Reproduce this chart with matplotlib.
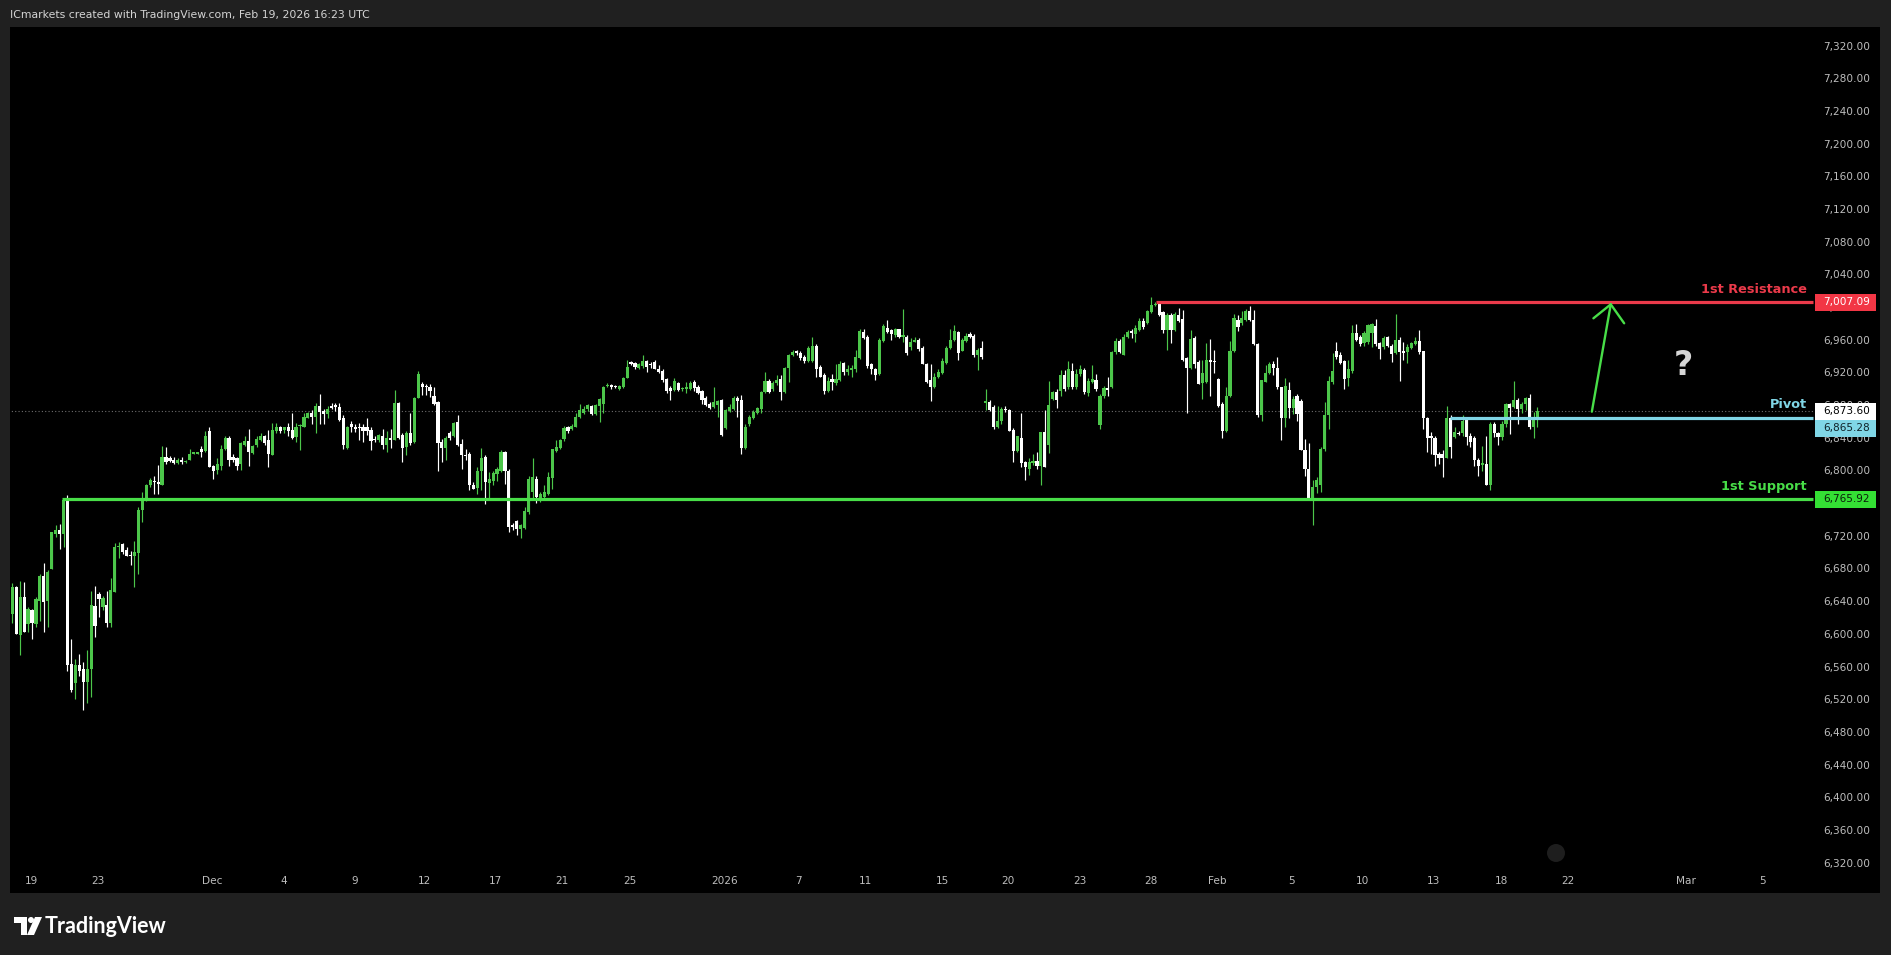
from __future__ import annotations

import matplotlib
matplotlib.use("Agg")
import numpy as np
import matplotlib.pyplot as plt
from matplotlib.patches import Rectangle, Circle, Polygon
from matplotlib.transforms import blended_transform_factory, IdentityTransform


OUT_FILE = "out.png"
W_PX, H_PX, DPI = 1891, 955, 100

# 4h candles, US500 (one value per bar)
OPEN = [
    6625, 6659, 6600, 6646, 6613, 6630, 6613, 6642, 6672, 6641,
    6680, 6724, 6728, 6724, 6765, 6564, 6541, 6563, 6558, 6542,
    6558, 6635, 6650, 6634, 6636, 6615, 6653, 6707, 6711, 6704,
    6698, 6696, 6700, 6753, 6765, 6783, 6788, 6787, 6784, 6818,
    6817, 6814, 6810, 6814, 6812, 6814, 6822, 6822, 6828, 6825,
    6849, 6807, 6802, 6807, 6828, 6841, 6818, 6817, 6809, 6833,
    6837, 6823, 6833, 6839, 6843, 6839, 6820, 6850, 6854, 6851,
    6855, 6851, 6842, 6856, 6855, 6866, 6871, 6867, 6880, 6874,
    6870, 6880, 6881, 6879, 6866, 6829, 6858, 6855, 6854, 6855,
    6855, 6851, 6840, 6838, 6844, 6832, 6841, 6839, 6884, 6845,
    6830, 6847, 6836, 6890, 6907, 6905, 6903, 6893, 6885, 6836,
    6829, 6847, 6844, 6860, 6834, 6820, 6822, 6784, 6780, 6801,
    6818, 6786, 6788, 6797, 6801, 6824, 6801, 6735, 6739, 6730,
    6731, 6750, 6775, 6791, 6767, 6769, 6773, 6792, 6825, 6829,
    6840, 6854, 6852, 6855, 6867, 6872, 6876, 6880, 6870, 6880,
    6882, 6905, 6906, 6904, 6901, 6903, 6914, 6933, 6933, 6927,
    6929, 6935, 6931, 6934, 6926, 6923, 6913, 6902, 6900, 6908,
    6901, 6901, 6901, 6909, 6904, 6899, 6890, 6883, 6879, 6881,
    6888, 6853, 6874, 6876, 6890, 6888, 6829, 6858, 6866, 6871,
    6877, 6897, 6911, 6901, 6908, 6913, 6897, 6927, 6942, 6947,
    6945, 6940, 6935, 6935, 6954, 6928, 6918, 6899, 6913, 6908,
    6912, 6933, 6922, 6924, 6926, 6939, 6971, 6965, 6931, 6926,
    6919, 6960, 6976, 6973, 6967, 6974, 6965, 6965, 6952, 6959,
    6961, 6951, 6932, 6912, 6904, 6916, 6920, 6933, 6951, 6961,
    6971, 6948, 6960, 6968, 6966, 6942, 6951, 6884, 6885, 6879,
    6855, 6862, 6877, 6875, 6851, 6825, 6841, 6811, 6803, 6810,
    6813, 6807, 6848, 6832, 6889, 6897, 6899, 6918, 6903, 6923,
    6904, 6919, 6924, 6896, 6910, 6912, 6857, 6892, 6902, 6904,
    6946, 6960, 6943, 6965, 6971, 6968, 6973, 6984, 6982, 6995,
    7004, 7006, 6995, 6973, 6992, 6973, 6992, 6987, 6939, 6927,
    6964, 6934, 6908, 6909, 6937, 6935, 6913, 6883, 6850, 6892,
    6947, 6986, 6982, 6986, 6997, 6986, 6956, 6869, 6910, 6920,
    6931, 6927, 6903, 6866, 6900, 6878, 6893, 6886, 6826, 6803,
    6765, 6781, 6783, 6827, 6869, 6909, 6948, 6943, 6935, 6915,
    6923, 6969, 6965, 6957, 6958, 6969, 6978, 6957, 6952, 6965,
    6954, 6945, 6961, 6948, 6946, 6951, 6956, 6960, 6947, 6866,
    6844, 6841, 6822, 6821, 6817, 6866, 6842, 6847, 6847, 6863,
    6843, 6841, 6814, 6808, 6809, 6783, 6858, 6847, 6842, 6858,
    6882, 6879, 6887, 6876, 6882, 6890, 6855, 6865,
]
HIGH = [
    6664, 6660, 6666, 6665, 6634, 6632, 6646, 6675, 6688, 6679,
    6726, 6734, 6736, 6765, 6771, 6595, 6571, 6576, 6567, 6581,
    6654, 6660, 6652, 6648, 6654, 6670, 6712, 6714, 6712, 6707,
    6703, 6715, 6756, 6775, 6785, 6792, 6795, 6808, 6831, 6830,
    6819, 6818, 6817, 6818, 6814, 6828, 6823, 6823, 6831, 6850,
    6854, 6808, 6817, 6832, 6844, 6843, 6821, 6818, 6836, 6843,
    6852, 6833, 6844, 6847, 6845, 6851, 6859, 6859, 6856, 6855,
    6859, 6871, 6859, 6858, 6871, 6873, 6875, 6884, 6895, 6877,
    6880, 6884, 6884, 6884, 6869, 6856, 6862, 6858, 6859, 6858,
    6866, 6854, 6844, 6846, 6852, 6850, 6852, 6900, 6885, 6847,
    6850, 6872, 6891, 6923, 6909, 6907, 6907, 6904, 6886, 6840,
    6844, 6849, 6861, 6869, 6840, 6827, 6824, 6787, 6805, 6829,
    6820, 6799, 6801, 6806, 6826, 6825, 6803, 6737, 6740, 6736,
    6756, 6795, 6817, 6795, 6775, 6783, 6799, 6828, 6838, 6840,
    6856, 6856, 6858, 6871, 6883, 6880, 6883, 6881, 6883, 6890,
    6905, 6908, 6907, 6906, 6906, 6916, 6936, 6935, 6934, 6933,
    6943, 6937, 6934, 6936, 6930, 6925, 6915, 6905, 6914, 6909,
    6903, 6909, 6911, 6912, 6906, 6900, 6892, 6885, 6903, 6887,
    6889, 6877, 6883, 6892, 6893, 6894, 6858, 6869, 6875, 6879,
    6899, 6922, 6913, 6911, 6918, 6918, 6928, 6944, 6949, 6949,
    6947, 6942, 6953, 6965, 6956, 6930, 6920, 6916, 6919, 6932,
    6935, 6934, 6930, 6930, 6949, 6975, 6975, 6967, 6933, 6927,
    6964, 6980, 6986, 6975, 6976, 6975, 6999, 6967, 6964, 6965,
    6964, 6953, 6933, 6932, 6920, 6926, 6939, 6953, 6974, 6979,
    6972, 6964, 6969, 6971, 6968, 6951, 6960, 6901, 6887, 6881,
    6880, 6879, 6880, 6877, 6853, 6844, 6871, 6813, 6816, 6822,
    6824, 6848, 6875, 6911, 6899, 6901, 6924, 6924, 6935, 6933,
    6925, 6930, 6927, 6915, 6930, 6919, 6895, 6905, 6916, 6947,
    6964, 6962, 6968, 6973, 6975, 6979, 6988, 6988, 6998, 7013,
    7008, 7007, 6996, 6994, 6994, 6995, 7000, 6998, 6940, 6973,
    6966, 6936, 6937, 6957, 6962, 6949, 6915, 6885, 6904, 6960,
    6993, 6992, 6996, 6999, 7002, 6998, 6957, 6912, 6930, 6934,
    6935, 6940, 6904, 6915, 6910, 6892, 6895, 6889, 6840, 6835,
    6789, 6793, 6830, 6885, 6917, 6945, 6958, 6946, 6936, 6937,
    6979, 6980, 6967, 6972, 6981, 6982, 6987, 6958, 6966, 6966,
    6956, 6993, 6965, 6958, 6956, 6959, 6965, 6973, 6948, 6867,
    6848, 6843, 6824, 6826, 6880, 6869, 6855, 6849, 6869, 6864,
    6847, 6844, 6817, 6831, 6844, 6860, 6860, 6848, 6862, 6884,
    6884, 6911, 6890, 6885, 6891, 6895, 6873, 6879,
]
LOW = [
    6615, 6601, 6575, 6604, 6603, 6595, 6609, 6617, 6603, 6609,
    6680, 6720, 6705, 6707, 6556, 6530, 6521, 6550, 6508, 6516,
    6524, 6597, 6622, 6630, 6610, 6610, 6653, 6694, 6699, 6696,
    6685, 6658, 6674, 6738, 6764, 6781, 6772, 6773, 6784, 6809,
    6811, 6809, 6809, 6809, 6810, 6814, 6821, 6821, 6818, 6824,
    6805, 6791, 6797, 6802, 6826, 6807, 6811, 6802, 6802, 6831,
    6807, 6821, 6830, 6837, 6833, 6806, 6820, 6847, 6847, 6847,
    6844, 6840, 6836, 6826, 6854, 6865, 6858, 6847, 6858, 6858,
    6865, 6876, 6874, 6862, 6827, 6828, 6848, 6848, 6838, 6836,
    6845, 6826, 6836, 6836, 6827, 6824, 6829, 6838, 6840, 6812,
    6820, 6832, 6835, 6890, 6894, 6894, 6891, 6881, 6801, 6812,
    6814, 6838, 6842, 6831, 6803, 6814, 6777, 6778, 6773, 6777,
    6760, 6767, 6783, 6788, 6799, 6785, 6726, 6728, 6722, 6718,
    6730, 6748, 6765, 6761, 6763, 6767, 6771, 6779, 6824, 6828,
    6837, 6847, 6851, 6854, 6865, 6870, 6874, 6869, 6869, 6861,
    6871, 6904, 6901, 6902, 6900, 6902, 6914, 6930, 6926, 6925,
    6927, 6922, 6927, 6925, 6921, 6909, 6896, 6888, 6899, 6899,
    6899, 6896, 6900, 6899, 6895, 6882, 6880, 6876, 6878, 6867,
    6844, 6852, 6873, 6875, 6867, 6822, 6828, 6856, 6864, 6870,
    6871, 6896, 6896, 6899, 6906, 6888, 6896, 6909, 6941, 6943,
    6937, 6933, 6934, 6934, 6916, 6916, 6895, 6897, 6900, 6906,
    6911, 6918, 6918, 6916, 6922, 6938, 6962, 6927, 6919, 6912,
    6918, 6958, 6969, 6961, 6965, 6964, 6958, 6942, 6949, 6958,
    6948, 6931, 6908, 6886, 6902, 6915, 6919, 6931, 6950, 6960,
    6937, 6947, 6958, 6963, 6940, 6924, 6938, 6875, 6874, 6852,
    6853, 6858, 6873, 6849, 6811, 6824, 6806, 6790, 6796, 6808,
    6803, 6783, 6805, 6823, 6887, 6878, 6893, 6899, 6901, 6901,
    6901, 6917, 6895, 6893, 6908, 6899, 6852, 6890, 6893, 6902,
    6944, 6945, 6942, 6964, 6964, 6958, 6972, 6975, 6980, 6994,
    7002, 6990, 6969, 6949, 6957, 6972, 6983, 6935, 6871, 6926,
    6927, 6907, 6889, 6908, 6892, 6920, 6879, 6841, 6848, 6891,
    6946, 6972, 6979, 6984, 6984, 6955, 6867, 6862, 6909, 6919,
    6918, 6901, 6839, 6854, 6866, 6870, 6862, 6826, 6795, 6765,
    6735, 6774, 6775, 6825, 6852, 6907, 6938, 6931, 6901, 6905,
    6921, 6960, 6954, 6954, 6956, 6952, 6954, 6938, 6950, 6952,
    6934, 6944, 6911, 6936, 6933, 6950, 6955, 6944, 6852, 6824,
    6822, 6807, 6809, 6793, 6816, 6817, 6841, 6845, 6844, 6832,
    6830, 6807, 6795, 6801, 6783, 6777, 6842, 6833, 6838, 6854,
    6846, 6878, 6858, 6871, 6875, 6852, 6841, 6854,
]
CLOSE = [
    6659, 6601, 6646, 6604, 6632, 6614, 6644, 6672, 6640, 6677,
    6726, 6728, 6723, 6765, 6563, 6533, 6563, 6556, 6542, 6558,
    6636, 6611, 6644, 6645, 6615, 6655, 6707, 6708, 6701, 6697,
    6696, 6702, 6753, 6765, 6783, 6789, 6787, 6785, 6818, 6811,
    6813, 6810, 6814, 6812, 6813, 6822, 6822, 6822, 6824, 6844,
    6806, 6801, 6809, 6828, 6841, 6814, 6814, 6807, 6835, 6837,
    6824, 6831, 6840, 6843, 6835, 6821, 6851, 6854, 6850, 6854,
    6849, 6841, 6854, 6857, 6867, 6871, 6867, 6880, 6873, 6870,
    6877, 6878, 6879, 6863, 6832, 6855, 6854, 6852, 6853, 6850,
    6850, 6837, 6838, 6845, 6833, 6841, 6838, 6884, 6841, 6829,
    6847, 6835, 6890, 6919, 6903, 6903, 6899, 6883, 6835, 6829,
    6841, 6841, 6859, 6833, 6820, 6819, 6783, 6779, 6801, 6816,
    6787, 6791, 6798, 6803, 6824, 6801, 6732, 6732, 6730, 6734,
    6752, 6791, 6793, 6769, 6772, 6775, 6793, 6827, 6830, 6839,
    6853, 6850, 6856, 6867, 6875, 6877, 6881, 6870, 6881, 6889,
    6904, 6906, 6904, 6903, 6905, 6914, 6928, 6932, 6928, 6931,
    6935, 6928, 6930, 6926, 6922, 6912, 6899, 6898, 6911, 6900,
    6902, 6903, 6908, 6902, 6896, 6888, 6881, 6878, 6885, 6886,
    6845, 6875, 6879, 6890, 6886, 6829, 6855, 6867, 6873, 6878,
    6897, 6911, 6897, 6908, 6912, 6897, 6927, 6942, 6946, 6945,
    6939, 6935, 6951, 6954, 6925, 6916, 6899, 6911, 6909, 6913,
    6932, 6922, 6926, 6927, 6940, 6972, 6964, 6929, 6925, 6918,
    6961, 6978, 6971, 6968, 6974, 6965, 6967, 6945, 6959, 6961,
    6950, 6932, 6909, 6904, 6916, 6922, 6935, 6951, 6961, 6972,
    6945, 6961, 6966, 6965, 6942, 6949, 6940, 6886, 6875, 6854,
    6862, 6877, 6875, 6850, 6825, 6843, 6810, 6805, 6811, 6813,
    6807, 6848, 6806, 6881, 6897, 6887, 6918, 6901, 6925, 6903,
    6919, 6926, 6897, 6911, 6913, 6901, 6892, 6902, 6900, 6946,
    6960, 6946, 6965, 6971, 6970, 6976, 6984, 6977, 6997, 7004,
    7005, 6992, 6973, 6992, 6973, 6993, 6984, 6936, 6927, 6962,
    6932, 6907, 6920, 6937, 6934, 6934, 6880, 6850, 6892, 6948,
    6988, 6977, 6988, 6996, 6986, 6956, 6869, 6912, 6920, 6932,
    6927, 6903, 6866, 6905, 6878, 6889, 6870, 6826, 6803, 6765,
    6781, 6790, 6827, 6869, 6911, 6923, 6940, 6933, 6913, 6926,
    6969, 6961, 6956, 6969, 6979, 6980, 6956, 6950, 6964, 6953,
    6944, 6961, 6946, 6945, 6952, 6957, 6960, 6946, 6865, 6841,
    6841, 6820, 6816, 6816, 6865, 6830, 6848, 6846, 6862, 6842,
    6836, 6814, 6807, 6810, 6783, 6858, 6847, 6842, 6858, 6882,
    6878, 6888, 6876, 6882, 6890, 6855, 6865, 6874,
]

# time scale: label text and the bar where that day starts
DATE_LABELS = ["19", "23", "Dec", "4", "9", "12", "17", "21", "25", "2026",
               "7", "11", "15", "20", "23", "28", "Feb", "5", "10", "13",
               "18", "22", "Mar", "5"]
DATE_BARS = [4.9, 21.7, 50.7, 68.8, 86.9, 104.6, 122.7, 139.5, 156.6, 180.8,
             199.5, 216.6, 235.9, 252.7, 270.8, 288.8, 305.7, 324.6, 342.7, 360.7,
             377.9, 394.7, 424.7, 444.0]

# 6,760.00 sits completely under the support label, so it is left out
PRICE_TICKS = [6320, 6360, 6400, 6440, 6480, 6520, 6560, 6600, 6640, 6680,
               6720, 6800, 6840, 6880, 6920, 6960, 7000, 7040, 7080,
               7120, 7160, 7200, 7240, 7280, 7320]

# drawn levels
RESISTANCE = 7007.09
PIVOT = 6865.28
SUPPORT = 6765.92
LAST_PRICE = 6873.60
RES_START_BAR = 290.1
PIVOT_START_BAR = 364.8
SUPPORT_START_BAR = 12.7

# arrow drawing (bar, price)
ARROW_TAIL = (400.8, 6873.2)
ARROW_HEAD = (405.6, 7004.6)
ARROW_WINGS = [(401.2, 6987.5), (409.0, 6981.4)]
QUESTION_AT = (424.1, 6929.7)

# screen geometry (px) of the screenshot
PANEL_L, PANEL_R, PANEL_T, PANEL_B = 10, 1880, 27, 893
SCALE_L = 1813          # price scale starts here
LABEL_X = 1823
FIRST_BAR_PX, BAR_PX = 12.3, 3.941
REF_PRICE, REF_Y, PX_PER_PT = 7007.09, 302.3, 0.8169

BG_OUTER = "#202020"
UP = "#4cc64a"
DOWN = "#ffffff"
RED = "#eb3a4a"
BLUE = "#80d6e6"
GREEN = "#48de48"
AXIS_TXT = "#bdbdbd"

plt.rcParams.update({"font.family": ["DejaVu Sans"], "font.size": 8})


def _px_to_bar(x: float) -> float:
    return (x - FIRST_BAR_PX) / BAR_PX


def _y_to_price(y: float) -> float:
    return REF_PRICE - (y - REF_Y) / PX_PER_PT


def _xfrac(x: float) -> float:
    return (x - PANEL_L) / (PANEL_R - PANEL_L)


def draw_candles(ax) -> None:
    n = min(len(OPEN), len(HIGH), len(LOW), len(CLOSE))
    o = np.array(OPEN[:n], float)
    h = np.array(HIGH[:n], float)
    l = np.array(LOW[:n], float)
    c = np.array(CLOSE[:n], float)
    x = np.arange(n)
    cols = np.where(c >= o, UP, DOWN)
    ax.vlines(x, l, h, colors=cols, linewidth=0.85, zorder=3)
    body = np.maximum(np.abs(c - o), 1.4)
    ax.bar(x, body, bottom=np.minimum(o, c), width=0.8, color=cols,
           linewidth=0, zorder=4)


def draw_levels(ax) -> None:
    right = _px_to_bar(SCALE_L)
    ax.plot([-1, right], [LAST_PRICE, LAST_PRICE], color="#6e6e6e",
            linewidth=0.8, linestyle=(0, (1, 2)), zorder=2)
    for start, lvl, col in [(RES_START_BAR, RESISTANCE, RED),
                            (PIVOT_START_BAR, PIVOT, BLUE),
                            (SUPPORT_START_BAR, SUPPORT, GREEN)]:
        ax.plot([start, right], [lvl, lvl], color=col, linewidth=2.3, zorder=5,
                solid_capstyle="butt")

    tx = _px_to_bar(1807)
    for txt, lvl, col in [("1st Resistance", RESISTANCE, RED), ("Pivot", PIVOT, BLUE),
                          ("1st Support", SUPPORT, GREEN)]:
        ax.annotate(txt, (tx, lvl), xytext=(0, 9.5), textcoords="offset points",
                    ha="right", va="center", color=col, fontsize=9.3,
                    fontweight="bold", zorder=6)

    # arrow + question mark
    ax.plot([ARROW_TAIL[0], ARROW_HEAD[0]], [ARROW_TAIL[1], ARROW_HEAD[1]],
            color=GREEN, linewidth=1.7, zorder=6, solid_capstyle="round")
    for wx, wy in ARROW_WINGS:
        ax.plot([wx, ARROW_HEAD[0]], [wy, ARROW_HEAD[1]], color=GREEN,
                linewidth=1.7, zorder=6, solid_capstyle="round")
    ax.text(QUESTION_AT[0], QUESTION_AT[1], "?", ha="center", va="center",
            fontsize=24, fontweight="bold", color="#d6d6d6", zorder=6)


def draw_price_scale(ax) -> None:
    trans = blended_transform_factory(ax.transAxes, ax.transData)
    for v in PRICE_TICKS:
        ax.text(_xfrac(LABEL_X), v, f"{v:,.2f}", transform=trans, ha="left",
                va="center", fontsize=7.6, color=AXIS_TXT, zorder=7)

    box_h = 17 / PX_PER_PT
    boxes = [
        (RESISTANCE, RESISTANCE, "#f23645", "#ffffff"),
        (LAST_PRICE, LAST_PRICE, "#ffffff", "#000000"),
        (PIVOT, LAST_PRICE - box_h, BLUE, "#10242a"),
        (SUPPORT, SUPPORT, "#34e034", "#0b1f0b"),
    ]
    for value, center, bg, fg in boxes:
        ax.add_patch(Rectangle((_xfrac(1815), center - box_h / 2),
                               _xfrac(1876) - _xfrac(1815), box_h,
                               transform=trans, facecolor=bg, edgecolor="none",
                               zorder=8, clip_on=False))
        ax.text(_xfrac(LABEL_X), center, f"{value:,.2f}", transform=trans,
                ha="left", va="center", fontsize=7.6, color=fg, zorder=9)


def draw_time_scale(ax) -> None:
    trans = blended_transform_factory(ax.transData, ax.transAxes)
    yf = (PANEL_B - 881) / (PANEL_B - PANEL_T)
    for lab, b in zip(DATE_LABELS, DATE_BARS):
        ax.text(b, yf, lab, transform=trans, ha="center", va="center",
                fontsize=7.6, color=AXIS_TXT, zorder=7)


def draw_chrome(fig) -> None:
    fig.text(10 / W_PX, 1 - 15 / H_PX,
             "ICmarkets created with TradingView.com, Feb 19, 2026 16:23 UTC",
             ha="left", va="center", fontsize=7.8, color="#d4d4d4")

    # TradingView mark, drawn in screen pixels
    ident = IdentityTransform()
    def P(x, y):
        return (x, H_PX - y)
    fig.patches.append(Polygon([P(14, 917), P(27, 917), P(27, 935), P(21, 935),
                                P(21, 923), P(14, 923)], closed=True,
                               facecolor="#ffffff", transform=ident))
    fig.patches.append(Circle(P(31, 920), 3.0, facecolor="#ffffff", transform=ident))
    fig.patches.append(Polygon([P(35, 917), P(42, 917), P(34, 935), P(27, 935)],
                               closed=True, facecolor="#ffffff", transform=ident))
    fig.text(45 / W_PX, 1 - 926 / H_PX, "TradingView", ha="left", va="center",
             fontsize=15.5, fontweight="bold", color="#ffffff", family=["Lato", "DejaVu Sans"])

    # faint scroll button near the time scale
    fig.patches.append(Circle(P(1556, 853), 9, facecolor="#1e1e1e", transform=ident))


def main() -> None:
    fig = plt.figure(figsize=(W_PX / DPI, H_PX / DPI), dpi=DPI, facecolor=BG_OUTER)
    ax = fig.add_axes([PANEL_L / W_PX, 1 - PANEL_B / H_PX,
                       (PANEL_R - PANEL_L) / W_PX, (PANEL_B - PANEL_T) / H_PX])
    ax.set_facecolor("#000000")
    for sp in ax.spines.values():
        sp.set_visible(False)
    ax.set_xticks([])
    ax.set_yticks([])
    ax.set_xlim(_px_to_bar(PANEL_L), _px_to_bar(PANEL_R))
    ax.set_ylim(_y_to_price(PANEL_B), _y_to_price(PANEL_T))

    draw_candles(ax)
    draw_levels(ax)
    draw_price_scale(ax)
    draw_time_scale(ax)
    draw_chrome(fig)

    fig.savefig(OUT_FILE, dpi=DPI, facecolor=BG_OUTER)
    plt.close(fig)


if __name__ == "__main__":
    main()
